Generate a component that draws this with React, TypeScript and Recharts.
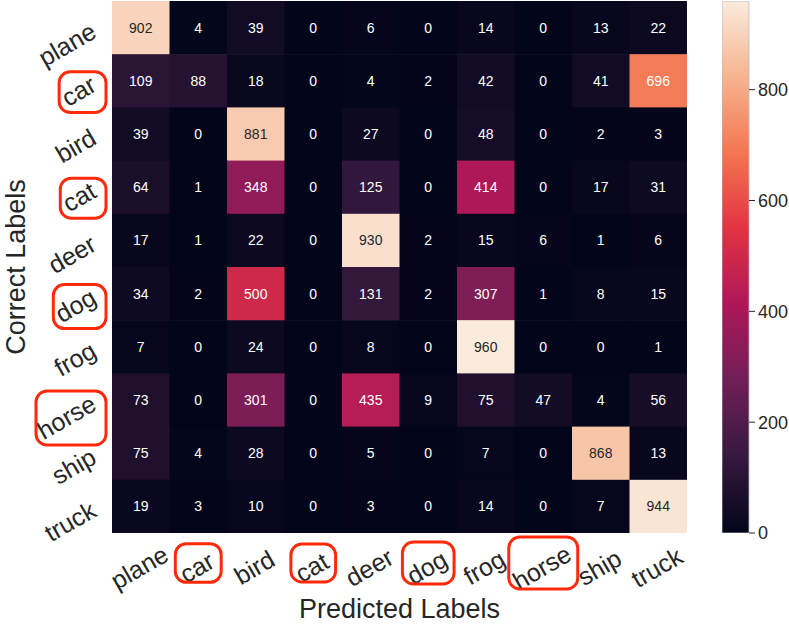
import React from 'react'
import { ScatterChart, Scatter, XAxis, YAxis, BarChart, Bar, Label } from 'recharts'

// class names, rows = correct label, columns = predicted label
const classes = ['plane', 'car', 'bird', 'cat', 'deer', 'dog', 'frog', 'horse', 'ship', 'truck']
const flagged = ['car', 'cat', 'dog', 'horse']

const confusion = [
  [902, 4, 39, 0, 6, 0, 14, 0, 13, 22],
  [109, 88, 18, 0, 4, 2, 42, 0, 41, 696],
  [39, 0, 881, 0, 27, 0, 48, 0, 2, 3],
  [64, 1, 348, 0, 125, 0, 414, 0, 17, 31],
  [17, 1, 22, 0, 930, 2, 15, 6, 1, 6],
  [34, 2, 500, 0, 131, 2, 307, 1, 8, 15],
  [7, 0, 24, 0, 8, 0, 960, 0, 0, 1],
  [73, 0, 301, 0, 435, 9, 75, 47, 4, 56],
  [75, 4, 28, 0, 5, 0, 7, 0, 868, 13],
  [19, 3, 10, 0, 3, 0, 14, 0, 7, 944],
]

const scaleTicks = [0, 200, 400, 600, 800]
const scaleMax = 960

// seaborn "rocket" sampled
const rocket: [number, string][] = [
  [0, '#03051a'],
  [1 / 7, '#35193e'],
  [2 / 7, '#701f57'],
  [3 / 7, '#ad1759'],
  [4 / 7, '#e13342'],
  [5 / 7, '#f37651'],
  [6 / 7, '#f6b48f'],
  [1, '#faebdd'],
]

const W = 789
const H = 625
const MARGIN = { top: 1, right: 102, bottom: 0, left: 0 }
const Y_AXIS_W = 112
const X_AXIS_H = 92
const CELL_W = (W - MARGIN.right - Y_AXIS_W) / classes.length
const CELL_H = (H - MARGIN.top - X_AXIS_H) / classes.length

const FONT = '"Liberation Sans", Arial, sans-serif'
const INK = '#262626'
const RED = '#ff2a0a'

const hex = (h: string) => [1, 3, 5].map((i) => parseInt(h.slice(i, i + 2), 16))

function rocketRGB(t: number) {
  const v = Math.max(0, Math.min(1, t))
  for (let i = 1; i < rocket.length; i++) {
    if (v <= rocket[i][0]) {
      const [p0, c0] = rocket[i - 1]
      const [p1, c1] = rocket[i]
      const f = (v - p0) / (p1 - p0)
      const a = hex(c0)
      const b = hex(c1)
      return a.map((x, k) => Math.round(x + (b[k] - x) * f))
    }
  }
  return hex(rocket[rocket.length - 1][1])
}

function luminance(rgb: number[]) {
  const lin = rgb.map((c) => {
    const s = c / 255
    return s <= 0.03928 ? s / 12.92 : Math.pow((s + 0.055) / 1.055, 2.4)
  })
  return 0.2126 * lin[0] + 0.7152 * lin[1] + 0.0722 * lin[2]
}

const cells = confusion.flatMap((row, r) =>
  row.map((value, c) => ({ pred: c, actual: r, value }))
)

// rough Arial widths (em) for sizing the highlight boxes
const charW: Record<string, number> = {
  a: 0.556, c: 0.5, d: 0.556, e: 0.556, g: 0.556, h: 0.556, o: 0.556, r: 0.333, s: 0.5, t: 0.278,
}
const textLen = (s: string, size: number) =>
  s.split('').reduce((acc, ch) => acc + (charW[ch] ?? 0.55), 0) * size

const TICK_SIZE = 25

function HeatCell(props: any) {
  const { cx, cy, payload } = props
  const rgb = rocketRGB(payload.value / scaleMax)
  const textColor = luminance(rgb) > 0.408 ? INK : '#ffffff'
  return (
    <g>
      <rect
        x={cx - CELL_W / 2}
        y={cy - CELL_H / 2}
        width={CELL_W + 0.6}
        height={CELL_H + 0.6}
        fill={`rgb(${rgb.join(',')})`}
      />
      <text
        x={cx}
        y={cy}
        dy="0.35em"
        textAnchor="middle"
        fill={textColor}
        fontSize={14}
        fontFamily={FONT}
      >
        {payload.value}
      </text>
    </g>
  )
}

function XTick(props: any) {
  const { x, y, payload } = props
  const name = classes[payload.value]
  const ax = x + 3
  const ay = y + 42
  const L = textLen(name, 24)
  const bw = 0.866 * L + 17
  const bh = 0.5 * L + 22
  return (
    <g>
      <text
        x={ax}
        y={ay}
        textAnchor="middle"
        transform={`rotate(-30, ${ax}, ${ay})`}
        fill={INK}
        fontSize={TICK_SIZE}
        fontFamily={FONT}
      >
        {name}
      </text>
      {flagged.includes(name) && (
        <rect
          x={x - bw / 2}
          y={y + 30 - bh / 2}
          width={bw}
          height={bh}
          rx={11}
          fill="none"
          stroke={RED}
          strokeWidth={3}
        />
      )}
    </g>
  )
}

function YTick(props: any) {
  const { x, y, payload } = props
  const name = classes[payload.value]
  const ax = x - 14
  const ay = y + 9
  const L = textLen(name, 24)
  const bw = 0.866 * L + 18
  const bh = 0.5 * L + 24
  const bx = ax - 0.433 * L - 1
  const by = ay + 0.25 * L - 6
  return (
    <g>
      <text
        x={ax}
        y={ay}
        textAnchor="end"
        transform={`rotate(-30, ${ax}, ${ay})`}
        fill={INK}
        fontSize={TICK_SIZE}
        fontFamily={FONT}
      >
        {name}
      </text>
      {flagged.includes(name) && (
        <rect
          x={bx - bw / 2}
          y={by - bh / 2}
          width={bw}
          height={bh}
          rx={11}
          fill="none"
          stroke={RED}
          strokeWidth={3}
        />
      )}
    </g>
  )
}

const axisTicks = classes.map((_, i) => i)

export default function App() {
  return (
    <div style={{ position: 'absolute', left: 0, top: 0, width: W, height: H, background: '#fff' }}>
      <ScatterChart width={W} height={H} margin={MARGIN}>
        <XAxis
          type="number"
          dataKey="pred"
          domain={[-0.5, 9.5]}
          allowDataOverflow
          ticks={axisTicks}
          interval={0}
          height={X_AXIS_H}
          axisLine={false}
          tickLine={false}
          tickSize={0}
          tickMargin={0}
          tick={(p: any) => <XTick {...p} />}
        >
          <Label
            content={(p: any) => {
              const vb = p.viewBox
              return (
                <text
                  x={vb.x + vb.width / 2}
                  y={618}
                  textAnchor="middle"
                  fill={INK}
                  fontSize={27}
                  fontFamily={FONT}
                >
                  Predicted Labels
                </text>
              )
            }}
          />
        </XAxis>
        <YAxis
          type="number"
          dataKey="actual"
          domain={[-0.5, 9.5]}
          allowDataOverflow
          reversed
          ticks={axisTicks}
          interval={0}
          width={Y_AXIS_W}
          axisLine={false}
          tickLine={false}
          tickSize={0}
          tickMargin={0}
          tick={(p: any) => <YTick {...p} />}
        >
          <Label
            content={(p: any) => {
              const vb = p.viewBox
              const cy = vb.y + vb.height / 2
              return (
                <text
                  x={25}
                  y={cy}
                  textAnchor="middle"
                  transform={`rotate(-90, 25, ${cy})`}
                  fill={INK}
                  fontSize={27}
                  fontFamily={FONT}
                >
                  Correct Labels
                </text>
              )
            }}
          />
        </YAxis>
        <Scatter data={cells} shape={(p: any) => <HeatCell {...p} />} isAnimationActive={false} />
      </ScatterChart>

      {/* colour bar */}
      <div style={{ position: 'absolute', left: 722, top: 0 }}>
        <BarChart
          width={67}
          height={H}
          data={[{ name: 'scale', v: scaleMax }]}
          margin={{ top: 1, right: 0, bottom: X_AXIS_H, left: 0 }}
          barCategoryGap={0}
        >
          <defs>
            <linearGradient id="rocketGrad" x1="0" y1="1" x2="0" y2="0">
              {rocket.map(([o, c]) => (
                <stop key={o} offset={o} stopColor={c} />
              ))}
            </linearGradient>
          </defs>
          <XAxis dataKey="name" hide />
          <YAxis
            orientation="right"
            width={40}
            domain={[0, scaleMax]}
            ticks={scaleTicks}
            allowDataOverflow
            axisLine={false}
            tickSize={6}
            tickMargin={3}
            tickLine={{ stroke: INK }}
            tick={{ fill: INK, fontSize: 18, fontFamily: FONT, textAnchor: 'start' }}
          />
          <Bar
            dataKey="v"
            fill="url(#rocketGrad)"
            stroke="#b8b8c8"
            strokeWidth={0.8}
            isAnimationActive={false}
          />
        </BarChart>
      </div>
    </div>
  )
}
